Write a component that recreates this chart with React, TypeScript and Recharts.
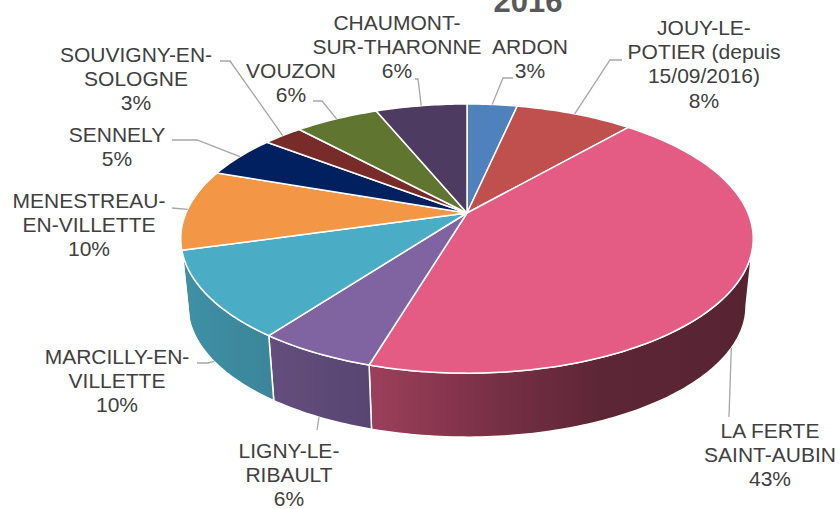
import React from "react";
import { PieChart, Pie } from "recharts";

// ---- data ----
const CATEGORIES = [
  "ARDON",
  "JOUY-LE-POTIER (depuis 15/09/2016)",
  "LA FERTE SAINT-AUBIN",
  "LIGNY-LE-RIBAULT",
  "MARCILLY-EN-VILLETTE",
  "MENESTREAU-EN-VILLETTE",
  "SENNELY",
  "SOUVIGNY-EN-SOLOGNE",
  "VOUZON",
  "CHAUMONT-SUR-THARONNE",
];
const VALUES = [3.4, 8.0, 43.2, 5.6, 10.4, 9.7, 5.1, 2.7, 5.7, 6.2];
const LABEL_LINES = [
  ["ARDON"],
  ["JOUY-LE-", "POTIER (depuis", "15/09/2016)"],
  ["LA FERTE", "SAINT-AUBIN"],
  ["LIGNY-LE-", "RIBAULT"],
  ["MARCILLY-EN-", "VILLETTE"],
  ["MENESTREAU-", "EN-VILLETTE"],
  ["SENNELY"],
  ["SOUVIGNY-EN-", "SOLOGNE"],
  ["VOUZON"],
  ["CHAUMONT-", "SUR-THARONNE"],
];
const TITLE = "2016";

// ---- styles ----
const COLORS = [
  "#4F81BD",
  "#C0504D",
  "#E45C84",
  "#8064A2",
  "#4BACC6",
  "#F39646",
  "#002060",
  "#772C2A",
  "#5F7530",
  "#4D3B62",
];
// label text position (centre x, first baseline) and leader elbow points
const LABEL_LAYOUT = [
  { x: 530, y: 54, elbow: [[513, 78], [503, 78]] },
  { x: 704, y: 35, elbow: [[622, 60], [610, 60]] },
  { x: 770, y: 438, elbow: [[729, 417]] },
  { x: 289, y: 458, elbow: [[317, 430]] },
  { x: 117, y: 364, elbow: [[197, 363], [208, 363]] },
  { x: 89, y: 208, elbow: [[172, 208]] },
  { x: 117, y: 142, elbow: [[172, 140], [197, 140]] },
  { x: 136, y: 62, elbow: [[220, 61], [230, 61]] },
  { x: 291, y: 78, elbow: [[313, 101], [322, 101]] },
  { x: 397, y: 30, elbow: [[415, 79], [418, 79]] },
];

const W = 840;
const H = 509;
const CX = 467;
const CY = 213;
const R = 281;
const RY_RATIO = 0.4616; // vertical squash of the top face
const K = 0.19; // perspective strength
const S_BOTTOM = 0.975; // bottom face scale toward vanishing point
const V_OFF = 2720; // vanishing point distance below centre
const FONT = "'Liberation Sans', Arial, sans-serif";
const LINE_H = 24.2;
const SIL = (Math.asin(K) * 180) / Math.PI; // silhouette angle

const ROWS = CATEGORIES.map((name, i) => ({
  name,
  value: VALUES[i],
  fill: COLORS[i],
  idx: i,
}));

function topPt(cx: number, cy: number, r: number, deg: number) {
  const t = (deg * Math.PI) / 180;
  const u = Math.cos(t);
  const v = Math.sin(t);
  const d = 1 + K * v;
  return { x: cx + (r * u) / d, y: cy - (r * RY_RATIO * v) / d };
}
function botPt(cx: number, cy: number, r: number, deg: number) {
  const p = topPt(cx, cy, r, deg);
  const vy = cy + V_OFF;
  return { x: cx + S_BOTTOM * (p.x - cx), y: vy + S_BOTTOM * (p.y - vy) };
}

function arcPts(fn: any, cx: number, cy: number, r: number, a0: number, a1: number) {
  const n = Math.max(2, Math.ceil(Math.abs(a1 - a0) / 1));
  const pts: string[] = [];
  for (let i = 0; i <= n; i++) {
    const a = a0 + ((a1 - a0) * i) / n;
    const p = fn(cx, cy, r, a);
    pts.push(`${p.x.toFixed(2)},${p.y.toFixed(2)}`);
  }
  return pts;
}

function renderTop(props: any) {
  const { cx, cy, outerRadius, startAngle, endAngle, fill } = props;
  const pts = arcPts(topPt, cx, cy, outerRadius, startAngle, endAngle);
  const d = `M${cx},${cy} L${pts.join(" L")} Z`;
  return (
    <path d={d} fill={fill} stroke="#FFFFFF" strokeWidth={1.5} strokeLinejoin="round" />
  );
}

function renderSide(props: any) {
  const { cx, cy, outerRadius, startAngle, endAngle, payload } = props;
  const lo = Math.max(Math.min(startAngle, endAngle), -180 + SIL);
  const hi = Math.min(Math.max(startAngle, endAngle), -SIL);
  if (!(hi > lo)) return <g />;
  const top = arcPts(topPt, cx, cy, outerRadius, lo, hi);
  const bot = arcPts(botPt, cx, cy, outerRadius, hi, lo);
  const d = `M${top.join(" L")} L${bot.join(" L")} Z`;
  const idx = payload && payload.idx !== undefined ? payload.idx : props.idx;
  return (
    <path d={d} fill={`url(#side-${idx})`} stroke="#FFFFFF" strokeWidth={1.5} strokeLinejoin="round" />
  );
}

function renderLabel(props: any) {
  const { cx, cy, outerRadius, midAngle, percent, index } = props;
  const lay = LABEL_LAYOUT[index];
  const inFront = midAngle > -180 + SIL && midAngle < -SIL;
  const anchor = inFront
    ? botPt(cx, cy, outerRadius, midAngle)
    : topPt(cx, cy, outerRadius, midAngle);
  const pts = [...lay.elbow.map((p) => `${p[0]},${p[1]}`), `${anchor.x.toFixed(1)},${anchor.y.toFixed(1)}`];
  const lines = [...LABEL_LINES[index], `${Math.round(percent * 100)}%`];
  return (
    <g key={`lbl-${index}`}>
      <polyline points={pts.join(" ")} fill="none" stroke="#A6A6A6" strokeWidth={1.3} />
      <text
        x={lay.x}
        y={lay.y}
        textAnchor="middle"
        fontFamily={FONT}
        fontSize={21}
        fill="#404040"
      >
        {lines.map((l, j) => (
          <tspan key={j} x={lay.x} y={lay.y + j * LINE_H}>
            {l}
          </tspan>
        ))}
      </text>
    </g>
  );
}

function shade(hex: string, f: number) {
  const n = parseInt(hex.slice(1), 16);
  const r = Math.round(((n >> 16) & 255) * f);
  const g = Math.round(((n >> 8) & 255) * f);
  const b = Math.round((n & 255) * f);
  return `rgb(${r},${g},${b})`;
}
const SIDE_STOPS = [
  [0, 0.84],
  [0.15, 0.78],
  [0.33, 0.69],
  [0.55, 0.52],
  [0.73, 0.41],
  [1, 0.38],
];

export default function App() {
  return (
    <div style={{ position: "absolute", left: 0, top: 0, width: W, height: H, background: "#fff" }}>
      <PieChart width={W} height={H} margin={{ top: 0, right: 0, bottom: 0, left: 0 }}>
        <defs>
          {COLORS.map((c, i) => (
            <linearGradient
              key={i}
              id={`side-${i}`}
              gradientUnits="userSpaceOnUse"
              x1={CX - R - 5}
              x2={CX + R + 5}
              y1={0}
              y2={0}
            >
              {SIDE_STOPS.map(([o, f], j) => (
                <stop key={j} offset={o} stopColor={shade(c, f)} />
              ))}
            </linearGradient>
          ))}
        </defs>
        <Pie
          data={ROWS}
          dataKey="value"
          nameKey="name"
          cx={CX}
          cy={CY}
          outerRadius={R}
          startAngle={90}
          endAngle={-270}
          isAnimationActive={false}
          shape={renderSide}
          label={false}
          labelLine={false}
          stroke="none"
        />
        <Pie
          data={ROWS}
          dataKey="value"
          nameKey="name"
          cx={CX}
          cy={CY}
          outerRadius={R}
          startAngle={90}
          endAngle={-270}
          isAnimationActive={false}
          shape={renderTop}
          label={renderLabel}
          labelLine={false}
          stroke="#FFFFFF"
        />
        <text
          x={528}
          y={12}
          textAnchor="middle"
          fontFamily={FONT}
          fontWeight="bold"
          fontSize={31}
          fill="#595959"
        >
          {TITLE}
        </text>
      </PieChart>
    </div>
  );
}
